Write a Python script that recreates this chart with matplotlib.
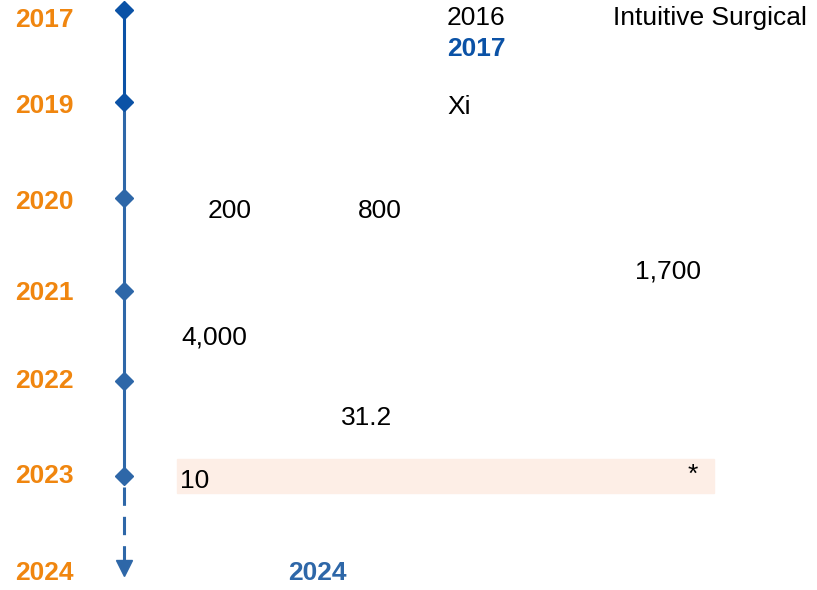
import matplotlib.pyplot as plt
from matplotlib.patches import Rectangle

plt.rcParams['font.family'] = ['Liberation Sans', 'DejaVu Sans']

# timeline years and their rows on the page
years = ["2017", "2019", "2020", "2021", "2022", "2023", "2024"]
rows = [10, 102, 198, 291, 381, 476, 568]
label_rows = [20, 106, 202, 293, 381, 476, 573]

# text cells: (text, x, y)
cells = [
    ("2016", 447, 18),
    ("Intuitive Surgical", 613, 18),
    ("Xi", 447, 107),
    ("200", 208, 211),
    ("800", 358, 211),
    ("1,700", 635, 272),
    ("4,000", 181, 337),
    ("31.2", 341, 418),
    ("10", 180, 481),
    ("*", 688, 475),
]

orange = "#f0860f"
dark_blue = "#0b52a6"
blue = "#2e67a8"

fig = plt.figure(figsize=(8.17, 5.90), dpi=100)
ax = fig.add_axes([0, 0, 1, 1])
ax.set_xlim(0, 817)
ax.set_ylim(590, 0)
ax.axis("off")

# highlighted row
ax.add_patch(Rectangle((177, 459), 537, 34, color="#fdeee6", zorder=0))

x0 = 124
# timeline
ax.plot([x0, x0], [rows[0], rows[1]], color=dark_blue, lw=2.2, zorder=2)
ax.plot([x0, x0], [rows[1], rows[5] + 5], color=blue, lw=2.2, zorder=2)
ax.plot([x0, x0], [rows[5] + 11, rows[6] - 6], color=blue, lw=2.2,
        dashes=(6, 3.6), dash_capstyle="butt", zorder=2)
ax.plot([x0], [rows[6]], marker="v", ms=11, color=blue, zorder=3)
ax.plot([x0, x0], rows[:2], ls="none", marker="D", ms=9, color=dark_blue, zorder=3)
ax.plot([x0] * 4, rows[2:6], ls="none", marker="D", ms=9, color=blue, zorder=3)

for y, ly in zip(years, label_rows):
    ax.text(15, ly, y, color=orange, fontsize=19, fontweight="bold",
            ha="left", va="center")

for t, x, y in cells:
    ax.text(x, y, t, color="black", fontsize=19, ha="left", va="center")

ax.text(447, 49, "2017", color=dark_blue, fontsize=19, fontweight="bold",
        ha="left", va="center")
ax.text(288, 573, "2024", color=blue, fontsize=19, fontweight="bold",
        ha="left", va="center")

fig.savefig("out.png", dpi=100)
